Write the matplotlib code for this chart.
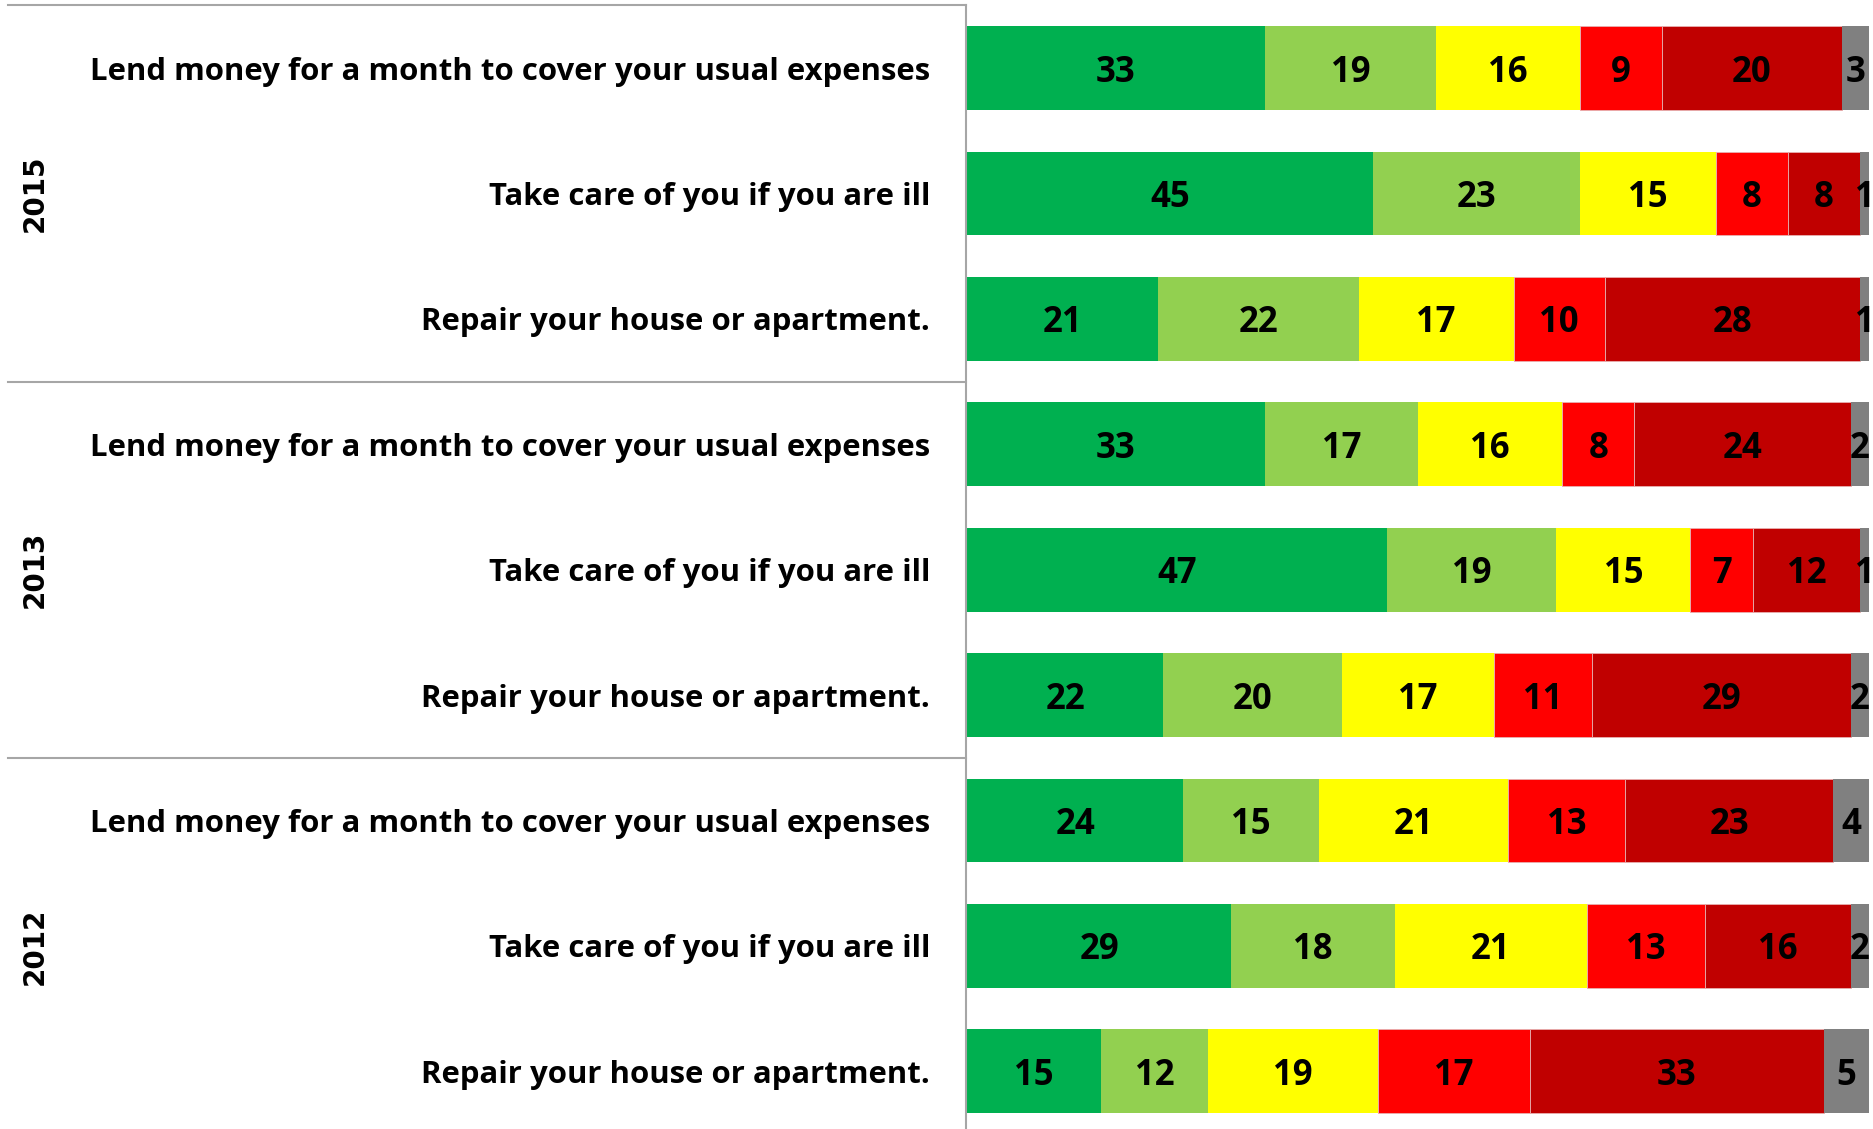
import numpy as np
import matplotlib.pyplot as plt

# survey rows, top to bottom
years = ["2015", "2013", "2012"]
items = ["Lend money for a month to cover your usual expenses",
         "Take care of you if you are ill",
         "Repair your house or apartment."]

# shares per answer category, one list per row (2015 x3, 2013 x3, 2012 x3)
cat1 = [33, 45, 21, 33, 47, 22, 24, 29, 15]
cat2 = [19, 23, 22, 17, 19, 20, 15, 18, 12]
cat3 = [16, 15, 17, 16, 15, 17, 21, 21, 19]
cat4 = [9, 8, 10, 8, 7, 11, 13, 13, 17]
cat5 = [20, 8, 28, 24, 12, 29, 23, 16, 33]
cat6 = [3, 1, 1, 2, 1, 2, 4, 2, 5]

colors = ["#00B050", "#92D050", "#FFFF00", "#FF0000", "#C00000", "#808080"]

W, H = 1873, 1129
fig = plt.figure(figsize=(W / 100, H / 100), dpi=100)

# axes placed in pixel terms: bars from x=967 to 1869, rows slot 125.4 px from y=5.4
top_px, slot = 5.4, 125.4
bot_px = top_px + 9 * slot
ax = fig.add_axes([967 / W, (H - bot_px) / H, 902 / W, (bot_px - top_px) / H])

vals = np.array([cat1, cat2, cat3, cat4, cat5, cat6], dtype=float)
shares = vals / vals.sum(axis=0) * 100  # 100% stacked
y = np.arange(9)
left = np.zeros(9)
for k in range(6):
    ax.barh(y, shares[k], left=left, height=0.667, color=colors[k],
            edgecolor="#e8b0b0" if k in (3, 4) else "none", linewidth=0.6)
    for i in range(9):
        ax.text(left[i] + shares[k][i] / 2, y[i], str(int(vals[k][i])),
                ha="center", va="center_baseline", fontsize=25, fontweight="bold",
                family=["Open Sans", "DejaVu Sans"], color="black", clip_on=False)
    left += shares[k]

ax.set_xlim(0, 100)
ax.set_ylim(8.5, -0.5)
ax.axis("off")

# row labels and group frame in figure pixel coords
def fy(py):
    return (H - py) / H

for i in range(9):
    cy = top_px + (i + 0.5) * slot
    fig.text(930 / W, fy(cy), items[i % 3], ha="right", va="center_baseline",
             fontsize=22.4, fontweight="bold", family=["Open Sans", "DejaVu Sans"])

for g in range(3):
    cy = top_px + (g * 3 + 1.5) * slot
    fig.text(35 / W, fy(cy), years[g], ha="center", va="center", rotation=90,
             fontsize=20, fontweight="bold", family="DejaVu Sans")

line_kw = dict(color="#a6a6a6", linewidth=1.5, transform=fig.transFigure)
for g in range(3):
    py = top_px + g * 3 * slot
    fig.add_artist(plt.Line2D([8 / W, 966 / W], [fy(py), fy(py)], **line_kw))
fig.add_artist(plt.Line2D([966 / W, 966 / W], [fy(top_px), 0], **line_kw))

fig.savefig("out.png", dpi=100)
